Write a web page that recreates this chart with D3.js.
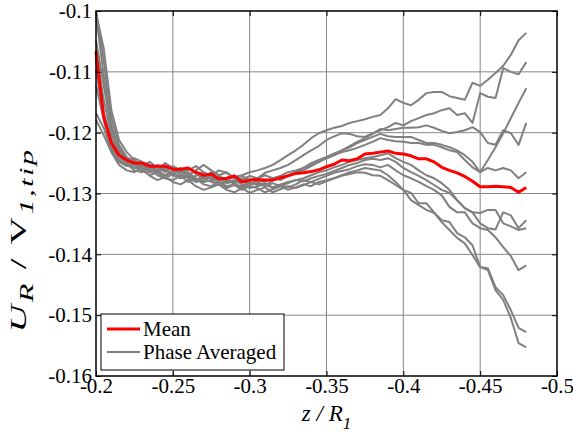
<!DOCTYPE html>
<html><head><meta charset="utf-8">
<script src="https://cdn.jsdelivr.net/npm/d3@7"></script>
<style>
body{margin:0;background:#fff}
svg{display:block}
</style></head>
<body><svg id="c" width="573" height="434" font-family="Liberation Serif"></svg>
<script>
const zPositions = [-0.200,-0.205,-0.210,-0.215,-0.220,-0.225,-0.230,-0.235,-0.240,-0.245,
 -0.250,-0.255,-0.260,-0.265,-0.270,-0.275,-0.280,-0.285,-0.290,-0.295,
 -0.300,-0.305,-0.310,-0.315,-0.320,-0.325,-0.330,-0.335,-0.340,-0.345,
 -0.350,-0.355,-0.360,-0.365,-0.370,-0.375,-0.380,-0.385,-0.390,-0.395,
 -0.400,-0.405,-0.410,-0.415,-0.420,-0.425,-0.430,-0.435,-0.440,-0.445,
 -0.450,-0.455,-0.460,-0.465,-0.470,-0.475,-0.480];

const meanValues = [-0.1067,-0.1174,-0.1217,-0.1237,-0.1245,-0.1250,-0.1250,-0.1255,-0.1255,-0.1255,
 -0.1260,-0.1260,-0.1258,-0.1265,-0.1270,-0.1268,-0.1276,-0.1275,-0.1271,-0.1281,
 -0.1278,-0.1277,-0.1278,-0.1278,-0.1274,-0.1271,-0.1267,-0.1266,-0.1264,-0.1261,
 -0.1256,-0.1252,-0.1245,-0.1246,-0.1243,-0.1235,-0.1234,-0.1232,-0.1230,-0.1234,
 -0.1235,-0.1238,-0.1243,-0.1243,-0.1248,-0.1257,-0.1262,-0.1266,-0.1272,-0.1280,
 -0.1289,-0.1289,-0.1288,-0.1289,-0.1290,-0.1298,-0.1290];

const phase1 = [-0.1000,-0.1081,-0.1176,-0.1220,-0.1240,-0.1248,-0.1253,-0.1258,-0.1262,-0.1255,-0.1262,-0.1265,-0.1258,-0.1268,-0.1275,-0.1265,-0.1271,-0.1278,-0.1273,-0.1270,-0.1265,-0.1262,-0.1258,-0.1253,-0.1245,-0.1237,-0.1229,-0.1220,-0.1209,-0.1201,-0.1196,-0.1192,-0.1189,-0.1184,-0.1181,-0.1178,-0.1174,-0.1171,-0.1160,-0.1145,-0.1151,-0.1155,-0.1146,-0.1135,-0.1133,-0.1133,-0.1140,-0.1143,-0.1146,-0.1118,-0.1123,-0.1113,-0.1102,-0.1090,-0.1072,-0.1048,-0.1036];
const phase2 = [-0.1003,-0.1061,-0.1163,-0.1212,-0.1232,-0.1245,-0.1255,-0.1248,-0.1258,-0.1265,-0.1255,-0.1262,-0.1270,-0.1262,-0.1253,-0.1262,-0.1270,-0.1265,-0.1275,-0.1278,-0.1271,-0.1275,-0.1266,-0.1262,-0.1258,-0.1253,-0.1245,-0.1237,-0.1229,-0.1222,-0.1212,-0.1206,-0.1201,-0.1202,-0.1206,-0.1207,-0.1201,-0.1196,-0.1191,-0.1184,-0.1188,-0.1181,-0.1176,-0.1171,-0.1168,-0.1163,-0.1160,-0.1171,-0.1168,-0.1184,-0.1135,-0.1141,-0.1143,-0.1094,-0.1100,-0.1104,-0.1084];
const phase3 = [-0.1007,-0.1105,-0.1188,-0.1229,-0.1245,-0.1253,-0.1250,-0.1262,-0.1265,-0.1258,-0.1270,-0.1275,-0.1271,-0.1278,-0.1275,-0.1281,-0.1286,-0.1278,-0.1283,-0.1280,-0.1286,-0.1283,-0.1288,-0.1278,-0.1275,-0.1270,-0.1265,-0.1258,-0.1250,-0.1245,-0.1240,-0.1234,-0.1229,-0.1224,-0.1217,-0.1212,-0.1207,-0.1202,-0.1206,-0.1207,-0.1207,-0.1207,-0.1212,-0.1217,-0.1217,-0.1220,-0.1224,-0.1229,-0.1237,-0.1248,-0.1265,-0.1245,-0.1224,-0.1201,-0.1176,-0.1151,-0.1127];
const phase4 = [-0.1048,-0.1122,-0.1196,-0.1225,-0.1242,-0.1250,-0.1258,-0.1265,-0.1253,-0.1262,-0.1268,-0.1262,-0.1275,-0.1281,-0.1278,-0.1271,-0.1281,-0.1288,-0.1285,-0.1291,-0.1285,-0.1278,-0.1281,-0.1275,-0.1278,-0.1271,-0.1265,-0.1262,-0.1255,-0.1248,-0.1242,-0.1237,-0.1229,-0.1222,-0.1215,-0.1209,-0.1202,-0.1194,-0.1196,-0.1194,-0.1192,-0.1192,-0.1191,-0.1188,-0.1192,-0.1197,-0.1201,-0.1199,-0.1196,-0.1191,-0.1199,-0.1217,-0.1220,-0.1196,-0.1201,-0.1220,-0.1184];
const phase5 = [-0.1064,-0.1146,-0.1204,-0.1232,-0.1245,-0.1242,-0.1248,-0.1253,-0.1262,-0.1250,-0.1258,-0.1265,-0.1262,-0.1255,-0.1265,-0.1271,-0.1262,-0.1266,-0.1275,-0.1271,-0.1278,-0.1275,-0.1270,-0.1275,-0.1271,-0.1265,-0.1262,-0.1258,-0.1253,-0.1248,-0.1242,-0.1237,-0.1232,-0.1229,-0.1225,-0.1220,-0.1215,-0.1209,-0.1212,-0.1214,-0.1215,-0.1217,-0.1217,-0.1220,-0.1220,-0.1224,-0.1229,-0.1232,-0.1245,-0.1257,-0.1265,-0.1258,-0.1262,-0.1258,-0.1262,-0.1275,-0.1265];
const phase6 = [-0.1081,-0.1166,-0.1212,-0.1237,-0.1250,-0.1257,-0.1262,-0.1255,-0.1265,-0.1270,-0.1262,-0.1268,-0.1275,-0.1271,-0.1265,-0.1275,-0.1281,-0.1275,-0.1285,-0.1288,-0.1281,-0.1286,-0.1283,-0.1290,-0.1285,-0.1281,-0.1278,-0.1275,-0.1270,-0.1265,-0.1262,-0.1257,-0.1253,-0.1248,-0.1245,-0.1242,-0.1240,-0.1237,-0.1234,-0.1242,-0.1248,-0.1253,-0.1262,-0.1270,-0.1275,-0.1283,-0.1294,-0.1311,-0.1324,-0.1331,-0.1349,-0.1357,-0.1359,-0.1331,-0.1336,-0.1357,-0.1344];
const phase7 = [-0.1097,-0.1176,-0.1220,-0.1242,-0.1248,-0.1258,-0.1253,-0.1265,-0.1262,-0.1271,-0.1266,-0.1258,-0.1268,-0.1278,-0.1271,-0.1276,-0.1273,-0.1283,-0.1280,-0.1275,-0.1283,-0.1280,-0.1288,-0.1283,-0.1288,-0.1283,-0.1278,-0.1280,-0.1275,-0.1271,-0.1268,-0.1263,-0.1258,-0.1253,-0.1250,-0.1245,-0.1243,-0.1245,-0.1242,-0.1248,-0.1258,-0.1265,-0.1271,-0.1278,-0.1286,-0.1294,-0.1299,-0.1311,-0.1324,-0.1331,-0.1332,-0.1327,-0.1327,-0.1349,-0.1354,-0.1360,-0.1357];
const phase8 = [-0.1122,-0.1179,-0.1225,-0.1245,-0.1252,-0.1262,-0.1265,-0.1258,-0.1270,-0.1275,-0.1268,-0.1271,-0.1265,-0.1275,-0.1281,-0.1278,-0.1286,-0.1281,-0.1278,-0.1285,-0.1291,-0.1288,-0.1285,-0.1291,-0.1286,-0.1290,-0.1285,-0.1278,-0.1281,-0.1276,-0.1271,-0.1266,-0.1263,-0.1260,-0.1255,-0.1252,-0.1253,-0.1257,-0.1253,-0.1262,-0.1270,-0.1275,-0.1281,-0.1288,-0.1294,-0.1303,-0.1322,-0.1331,-0.1331,-0.1349,-0.1357,-0.1360,-0.1372,-0.1388,-0.1403,-0.1426,-0.1418];
const phase9 = [-0.1168,-0.1192,-0.1229,-0.1248,-0.1255,-0.1252,-0.1262,-0.1270,-0.1265,-0.1275,-0.1278,-0.1271,-0.1281,-0.1275,-0.1285,-0.1288,-0.1281,-0.1291,-0.1286,-0.1294,-0.1288,-0.1291,-0.1298,-0.1293,-0.1288,-0.1294,-0.1290,-0.1285,-0.1288,-0.1281,-0.1278,-0.1275,-0.1270,-0.1265,-0.1262,-0.1258,-0.1260,-0.1262,-0.1270,-0.1281,-0.1294,-0.1299,-0.1316,-0.1316,-0.1331,-0.1344,-0.1347,-0.1365,-0.1372,-0.1385,-0.1421,-0.1423,-0.1454,-0.1467,-0.1492,-0.1521,-0.1528];
const phase10 = [-0.1179,-0.1204,-0.1232,-0.1253,-0.1262,-0.1265,-0.1258,-0.1271,-0.1278,-0.1273,-0.1281,-0.1285,-0.1278,-0.1288,-0.1294,-0.1290,-0.1285,-0.1294,-0.1298,-0.1291,-0.1299,-0.1294,-0.1290,-0.1298,-0.1293,-0.1288,-0.1291,-0.1286,-0.1281,-0.1285,-0.1280,-0.1275,-0.1271,-0.1268,-0.1265,-0.1266,-0.1270,-0.1271,-0.1278,-0.1286,-0.1294,-0.1311,-0.1319,-0.1327,-0.1332,-0.1347,-0.1360,-0.1373,-0.1382,-0.1401,-0.1421,-0.1426,-0.1459,-0.1475,-0.1505,-0.1546,-0.1553];
const phaseSeries = [phase1,phase2,phase3,phase4,phase5,phase6,phase7,phase8,phase9,phase10];

const xTicks = [-0.2,-0.25,-0.3,-0.35,-0.4,-0.45,-0.5];
const xTickLabels = ["-0.2","-0.25","-0.3","-0.35","-0.4","-0.45","-0.5"];
const yTicks = [-0.1,-0.11,-0.12,-0.13,-0.14,-0.15,-0.16];
const yTickLabels = ["-0.1","-0.11","-0.12","-0.13","-0.14","-0.15","-0.16"];
const legendLabels = ["Mean","Phase Averaged"];

const FONT = "Liberation Serif";
const L = 96, R = 557, T = 11, B = 376;
const svg = d3.select("#c");
const x = d3.scaleLinear().domain([-0.2,-0.5]).range([L,R]);
const y = d3.scaleLinear().domain([-0.16,-0.1]).range([B,T]);

// grid
const grid = svg.append("g");
grid.selectAll("line.vx").data(xTicks.slice(1,-1)).join("line")
  .attr("x1",d=>x(d)).attr("x2",d=>x(d)).attr("y1",T).attr("y2",B)
  .attr("stroke","#868686").attr("stroke-width",1);
grid.selectAll("line.hy").data(yTicks.slice(1,-1)).join("line")
  .attr("y1",d=>y(d)).attr("y2",d=>y(d)).attr("x1",L).attr("x2",R)
  .attr("stroke","#868686").attr("stroke-width",1);

const line = d3.line().x((d,i)=>x(zPositions[i])).y(d=>y(d));
svg.append("g").selectAll("path").data(phaseSeries).join("path")
  .attr("d",line).attr("fill","none").attr("stroke","#808080")
  .attr("stroke-width",2).attr("stroke-linejoin","round");
svg.append("path").datum(meanValues).attr("d",line).attr("fill","none")
  .attr("stroke","#ff0000").attr("stroke-width",3).attr("stroke-linejoin","round");

// axes
const fs = 21;
const ax = svg.append("g").attr("transform",`translate(0,${B})`)
  .call(d3.axisBottom(x).tickValues(xTicks).tickFormat((d,i)=>xTickLabels[i]).tickSizeInner(-5).tickSizeOuter(0).tickPadding(2));
const ay = svg.append("g").attr("transform",`translate(${L},0)`)
  .call(d3.axisLeft(y).tickValues(yTicks).tickFormat((d,i)=>yTickLabels[i]).tickSizeInner(-5).tickSizeOuter(0).tickPadding(4));
const axT = svg.append("g").attr("transform",`translate(0,${T})`)
  .call(d3.axisTop(x).tickValues(xTicks).tickFormat("").tickSizeInner(-5).tickSizeOuter(0));
const ayR = svg.append("g").attr("transform",`translate(${R},0)`)
  .call(d3.axisRight(y).tickValues(yTicks).tickFormat("").tickSizeInner(-5).tickSizeOuter(0));
[ax,ay,axT,ayR].forEach(g=>{
  g.attr("font-family",FONT).attr("font-size",fs);
  g.select(".domain").remove();
  g.selectAll("line").attr("stroke","#000");
  g.selectAll("text").attr("font-family",FONT).attr("font-size",fs).attr("fill","#000");
});
svg.append("rect").attr("x",L).attr("y",T).attr("width",R-L).attr("height",B-T)
  .attr("fill","none").attr("stroke","#000").attr("stroke-width",1.5);

// axis labels
const xl = svg.append("text").attr("x",(L+R)/2).attr("y",421).attr("text-anchor","middle")
  .attr("font-family",FONT).attr("font-size",23).attr("font-style","italic");
xl.append("tspan").text("z / R");
xl.append("tspan").attr("dy",8).attr("font-size",17).text("1");

const yl = svg.append("text").attr("text-anchor","middle").attr("font-family",FONT)
  .attr("font-size",24).attr("letter-spacing",1.5);
yl.append("tspan").attr("font-style","italic").text("U");
yl.append("tspan").attr("font-style","italic").attr("font-size",19).attr("dy",7).text("R");
yl.append("tspan").attr("dy",-7).text(" / V");
yl.append("tspan").attr("font-style","italic").attr("font-size",19).attr("dy",7).text("1,tip");
const ylW = yl.node().getBBox().width || 130;
yl.attr("transform",`translate(26,240) rotate(-90) scale(${185/ylW},1)`);

// legend
const lg = svg.append("g");
lg.append("rect").attr("x",101).attr("y",314).attr("width",183).attr("height",56)
  .attr("fill","#fff").attr("stroke","#000").attr("stroke-width",1);
const legendColors = ["#ff0000","#808080"];
const legendWidths = [3,2];
legendLabels.forEach((lab,i)=>{
  const cy = 329 + i*23;
  lg.append("line").attr("x1",107).attr("x2",140).attr("y1",cy).attr("y2",cy)
    .attr("stroke",legendColors[i]).attr("stroke-width",legendWidths[i]);
  lg.append("text").attr("x",143).attr("y",cy+7).attr("font-family",FONT).attr("font-size",fs).text(lab);
});
</script></body></html>
